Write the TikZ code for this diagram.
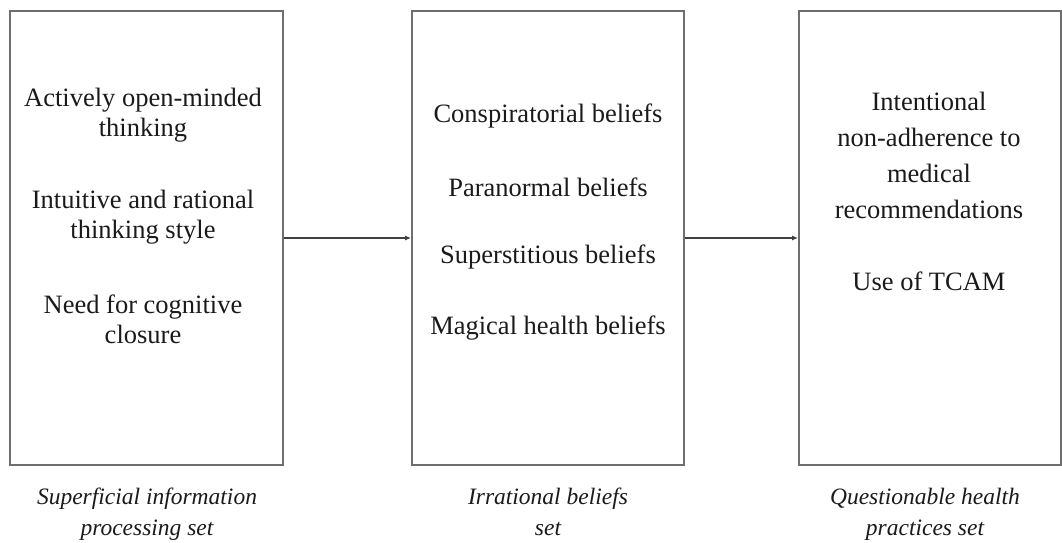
\documentclass[tikz,border=0pt]{standalone}
\usepackage{fontspec}
\setmainfont{Liberation Serif}
\usetikzlibrary{arrows.meta}
\definecolor{boxgray}{HTML}{6E6E6E}
\definecolor{txt}{HTML}{1A1A1A}
\begin{document}
\begin{tikzpicture}[x=1pt,y=-1pt,
  setbox/.style={draw=boxgray, line width=1.8pt, minimum width=#1, minimum height=454pt, inner sep=0pt},
  itemtext/.style={text=txt, align=center, font=\fontsize{26.5}{30}\selectfont, inner sep=0pt},
  righttext/.style={text=txt, align=center, font=\fontsize{26.5}{36}\selectfont, inner sep=0pt},
  captext/.style={text=txt, align=center, font=\fontsize{23.5}{31}\selectfont\itshape, inner sep=0pt},
  link/.style={draw=black!75, line width=1.2pt, -{Latex[length=6pt,width=5pt]}}]
\useasboundingbox (0,0) rectangle (1062,542);
% boxes
\node[setbox=273pt] (b1) at (146.5,238) {};
\node[setbox=272pt] (b2) at (548,238) {};
\node[setbox=262pt] (b3) at (930,238) {};
% left texts
\node[itemtext] (l1) at (143,115) {Actively open-minded\\thinking};
\node[itemtext] (l2) at (143,217) {Intuitive and rational\\thinking style};
\node[itemtext] (l3) at (143,319) {Need for cognitive\\closure};
% middle texts
\node[itemtext] (m1) at (548,116) {Conspiratorial beliefs};
\node[itemtext] (m2) at (548,187) {Paranormal beliefs};
\node[itemtext] (m3) at (548,257) {Superstitious beliefs};
\node[itemtext] (m4) at (548,328) {Magical health beliefs};
% right texts
\node[righttext] (r1) at (929,155) {Intentional\\non-adherence to\\medical\\recommendations};
\node[righttext] (r2) at (929,281) {Use of TCAM};
% captions
\node[captext] (c1) at (147,514) {Superficial information\\processing set};
\node[captext] (c2) at (548,514) {Irrational beliefs\\set\vphantom{p}};
\node[captext] (c3) at (925,514) {Questionable health\\practices set};
% connectors
\draw[link] (b1.east) -- (b2.west);
\draw[link] (b2.east) -- (b3.west);
\end{tikzpicture}
\end{document}
